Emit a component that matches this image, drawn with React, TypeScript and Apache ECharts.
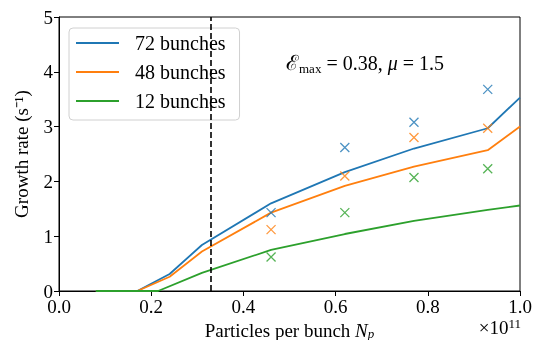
import React, { useEffect, useRef } from "react";
import * as echarts from "echarts";

const lineX72 = [0.08, 0.17, 0.24, 0.31, 0.46, 0.62, 0.77, 0.93, 1.0];
const line72 = [0, 0, 0.31, 0.84, 1.6, 2.17, 2.6, 2.97, 3.53];
const lineX48 = [0.08, 0.17, 0.24, 0.31, 0.46, 0.62, 0.77, 0.93, 1.0];
const line48 = [0, 0, 0.26, 0.72, 1.43, 1.92, 2.27, 2.57, 3.0];
const lineX12 = [0.08, 0.215, 0.31, 0.46, 0.62, 0.77, 0.93, 1.0];
const line12 = [0, 0, 0.33, 0.75, 1.04, 1.28, 1.48, 1.56];

const simX = [0.46, 0.62, 0.77, 0.93];
const sim72 = [1.43, 2.62, 3.08, 3.68];
const sim48 = [1.12, 2.1, 2.8, 2.97];
const sim12 = [0.62, 1.43, 2.07, 2.23];

const names = ["72 bunches", "48 bunches", "12 bunches"];
const colors = ["#1f77b4", "#ff7f0e", "#2ca02c"];
const thresholdX = 0.328;

const FONT = "'Liberation Serif', 'Times New Roman', serif";

const pairs = (xs: number[], ys: number[]) => xs.map((x, i) => [x, ys[i]]);

export default function App() {
  const ref = useRef<HTMLDivElement>(null);
  useEffect(() => {
    if (!ref.current) return;
    const chart = echarts.init(ref.current, null, { renderer: "svg" });
    const lines = [
      [lineX72, line72],
      [lineX48, line48],
      [lineX12, line12],
    ];
    const sims = [sim72, sim48, sim12];
    const series: any[] = [];
    lines.forEach(([xs, ys], i) => {
      series.push({
        name: names[i],
        type: "line",
        data: pairs(xs, ys),
        symbol: "none",
        lineStyle: { color: colors[i], width: 1.8 },
        itemStyle: { color: colors[i] },
        emphasis: { disabled: true },
        z: 3,
        markLine:
          i === 0
            ? {
                silent: true,
                symbol: "none",
                label: { show: false },
                lineStyle: { color: "#000", type: [6, 3], width: 1.6 },
                data: [{ xAxis: thresholdX }],
              }
            : undefined,
      });
    });
    sims.forEach((ys, i) => {
      series.push({
        name: names[i] + " sim",
        type: "scatter",
        data: pairs(simX, ys),
        symbol: "path://M0,0L10,10M10,0L0,10",
        symbolSize: 9,
        itemStyle: { color: "transparent", borderColor: colors[i], borderWidth: 1.3 },
        emphasis: { disabled: true },
        z: 4,
      });
    });

    chart.setOption({
      animation: false,
      grid: {
        left: 59,
        right: 13,
        top: 17,
        bottom: 49,
        outerBoundsMode: "none",
        containLabel: false,
        show: true,
        borderColor: "#000",
        borderWidth: 1,
        backgroundColor: "transparent",
      },
      legend: {
        data: names,
        orient: "vertical",
        left: 69,
        top: 28,
        padding: [5, 14, 9, 7],
        itemGap: 9,
        itemWidth: 43,
        itemHeight: 2,
        icon: "rect",
        backgroundColor: "rgba(255,255,255,0.8)",
        borderColor: "#d0d0d0",
        borderWidth: 1,
        borderRadius: 4,
        selectedMode: false,
        textStyle: {
          fontFamily: FONT,
          fontSize: 20,
          color: "#000",
          lineHeight: 20,
          padding: [0, 0, 0, 11],
        },
      },
      xAxis: {
        type: "value",
        min: 0,
        max: 1,
        interval: 0.2,
        name: "{a|Particles per bunch }{i|N}{s|p}",
        nameLocation: "middle",
        nameGap: 25,
        nameTextStyle: {
          rich: {
            a: { fontFamily: FONT, fontSize: 19, color: "#000", lineHeight: 20 },
            i: { fontFamily: FONT, fontSize: 19, fontStyle: "italic", color: "#000", lineHeight: 20 },
            s: { fontFamily: FONT, fontSize: 13, fontStyle: "italic", color: "#000", verticalAlign: "bottom", lineHeight: 20 },
          },
        },
        axisLine: { onZero: false, lineStyle: { color: "#000", width: 1 } },
        axisTick: { show: true, length: 5, lineStyle: { color: "#000" } },
        axisLabel: {
          fontFamily: FONT,
          fontSize: 19,
          color: "#000",
          margin: 6,
          formatter: (v: number) => v.toFixed(1),
        },
        splitLine: { show: false },
      },
      yAxis: {
        type: "value",
        min: 0,
        max: 5,
        interval: 1,
        name: "Growth rate (s⁻¹)",
        nameLocation: "middle",
        nameGap: 28,
        nameTextStyle: { fontFamily: FONT, fontSize: 19, color: "#000" },
        axisLine: { show: true, lineStyle: { color: "#000", width: 1 } },
        axisTick: { show: true, length: 5, lineStyle: { color: "#000" } },
        axisLabel: { fontFamily: FONT, fontSize: 19, color: "#000", margin: 6 },
        splitLine: { show: false },
      },
      graphic: [
        {
          type: "text",
          left: 286,
          top: 52,
          silent: true,
          style: {
            text: "{e|ℰ}{s|max}{n| = 0.38, }{i|μ}{n| = 1.5}",
            rich: {
              e: { fontFamily: FONT, fontSize: 21, fill: "#000", lineHeight: 24 },
              s: { fontFamily: FONT, fontSize: 13, fill: "#000", verticalAlign: "bottom", lineHeight: 24 },
              n: { fontFamily: FONT, fontSize: 20, fill: "#000", lineHeight: 24 },
              i: { fontFamily: FONT, fontSize: 20, fontStyle: "italic", fill: "#000", lineHeight: 24 },
            },
          },
        },
        {
          type: "text",
          right: 12,
          top: 317,
          silent: true,
          style: {
            text: "{a|×10}{s|11}",
            rich: {
              a: { fontFamily: FONT, fontSize: 19, fill: "#000", lineHeight: 20 },
              s: { fontFamily: FONT, fontSize: 13, fill: "#000", verticalAlign: "top", lineHeight: 20 },
            },
          },
        },
      ],
      series,
    });
    return () => chart.dispose();
  }, []);
  return (
    <div
      ref={ref}
      style={{ position: "fixed", left: 0, top: 0, width: 533, height: 340 }}
    />
  );
}
